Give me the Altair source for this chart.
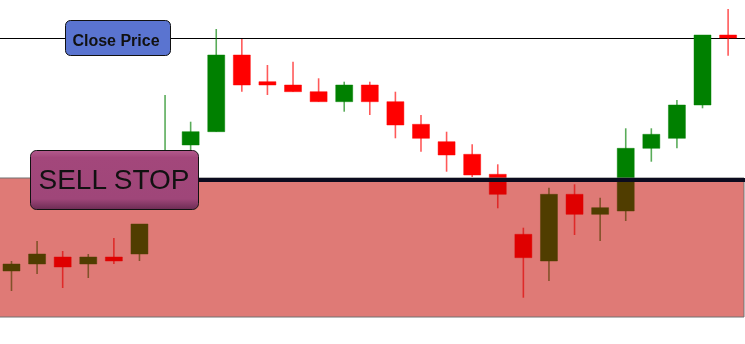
import altair as alt
import pandas as pd

# ---- data (price units) ----
idx = list(range(29))
open_ = [73, 80, 87, 80, 87, 90, 154, 199, 212.3, 289, 262.3, 259, 252.3, 242.3, 259,
         242.3, 219.7, 202.3, 189.7, 169.7, 109.7, 83, 149.7, 129.7, 133, 195.7, 205.7, 239, 309]
close = [80, 90, 77, 87, 83, 120, 179, 212.3, 289, 259, 259, 252.3, 242.3, 259, 242.3,
         219, 205.7, 189, 169, 149.7, 86.3, 149.7, 129.7, 136.3, 195.7, 209.7, 239, 309, 306]
high = [83, 103, 93, 90, 106, 120, 249, 222.3, 315, 305, 279, 282.3, 265.7, 262.3, 262.3,
        252.3, 229, 212.3, 199.7, 179.7, 116.3, 156.3, 159.7, 146.3, 215.7, 215.7, 244, 309, 335]
low = [53, 70, 56, 66, 80, 83, 144, 189, 212.3, 252.3, 249, 252.3, 242.3, 232.3, 229,
       205.7, 192.3, 172.3, 167, 135.7, 46.3, 63, 109, 103, 123, 182.3, 195.7, 235.7, 288.3]

stop_level = [164]
zone_top = [166]
zone_bottom = [27]
labels = ["Close Price", "SELL STOP"]

df = pd.DataFrame({"i": idx, "open": open_, "close": close, "high": high, "low": low})
df["dir"] = ["up" if c > o else "down" for o, c in zip(open_, close)]
last_close = close[-1]

W, H = 745, 344
xs = alt.Scale(domain=[-0.449, 28.66], nice=False, zero=False, padding=0)
ys = alt.Scale(domain=[0, 344], nice=False, zero=False, padding=0)
cs = alt.Scale(domain=["up", "down"], range=["#008000", "#ff0000"])

base = alt.Chart(df)

close_line = alt.Chart(pd.DataFrame({"v": [last_close]})).mark_rule(
    color="black", strokeWidth=1, yOffset=0.5
).encode(y=alt.Y("v:Q", scale=ys, axis=None), x=alt.value(0), x2=alt.value(W))

wicks = base.mark_rule(strokeWidth=1.6, opacity=0.65).encode(
    x=alt.X("i:Q", scale=xs, axis=None),
    y=alt.Y("low:Q", scale=ys, axis=None),
    y2="high:Q",
    color=alt.Color("dir:N", scale=cs, legend=None),
)

bodies = base.mark_bar(size=17, strokeWidth=1, strokeOpacity=0.45).encode(
    x=alt.X("i:Q", scale=xs, axis=None),
    y=alt.Y("open:Q", scale=ys, axis=None),
    y2="close:Q",
    color=alt.Color("dir:N", scale=cs, legend=None),
    stroke=alt.Stroke("dir:N", scale=cs, legend=None),
)

zdf = pd.DataFrame({"t": zone_top, "b": zone_bottom})
zone_mult = alt.Chart(zdf).mark_rect(
    fill="#eecbc5", blend="multiply"
).encode(y=alt.Y("t:Q", scale=ys, axis=None), y2="b:Q", x=alt.value(-2), x2=alt.value(744))

zone = alt.Chart(zdf).mark_rect(
    fill="#c80000", fillOpacity=0.4, stroke="#707070", strokeWidth=1
).encode(y=alt.Y("t:Q", scale=ys, axis=None), y2="b:Q", x=alt.value(-2), x2=alt.value(744))

stop_line = alt.Chart(pd.DataFrame({"v": stop_level})).mark_rule(
    color="#0b0b1e", strokeWidth=4
).encode(y=alt.Y("v:Q", scale=ys, axis=None), x=alt.value(199), x2=alt.value(W))

cp_box = alt.Chart(pd.DataFrame({"a": [0]})).mark_rect(
    fill="#5a74d0", stroke="#111111", strokeWidth=1, cornerRadius=5
).encode(x=alt.value(65.5), x2=alt.value(170.5), y=alt.value(20.5), y2=alt.value(55.5))

cp_text = alt.Chart(pd.DataFrame({"t": [labels[0]]})).mark_text(
    font="Liberation Sans", fontSize=16, fontWeight="bold", color="#111111",
    align="center", baseline="alphabetic"
).encode(text="t:N", x=alt.value(116), y=alt.value(45.5))

ss_grad = alt.Gradient(
    gradient="linear",
    stops=[
        alt.GradientStop(color="#b35a8d", offset=0),
        alt.GradientStop(color="#a3477b", offset=0.12),
        alt.GradientStop(color="#9f4679", offset=0.82),
        alt.GradientStop(color="#6c2c54", offset=1),
    ],
    x1=0, x2=0, y1=0, y2=1,
)
ss_box = alt.Chart(pd.DataFrame({"a": [0]})).mark_rect(
    fill=ss_grad, stroke="#111111", strokeWidth=1, cornerRadius=6
).encode(x=alt.value(30.5), x2=alt.value(198.5), y=alt.value(150.5), y2=alt.value(209.5))

ss_text = alt.Chart(pd.DataFrame({"t": [labels[1]]})).mark_text(
    font="Liberation Sans", fontSize=28, color="#111111",
    align="center", baseline="alphabetic"
).encode(text="t:N", x=alt.value(114), y=alt.value(188.5))

chart = alt.layer(
    close_line, wicks, bodies, zone_mult, zone, stop_line, cp_box, cp_text, ss_box, ss_text
).properties(
    width=W, height=H, padding=0,
    autosize=alt.AutoSizeParams(type="none"),
    background="white",
).configure_view(stroke=None)

chart.save("out.html", embed_options={"renderer": "svg", "actions": False})
